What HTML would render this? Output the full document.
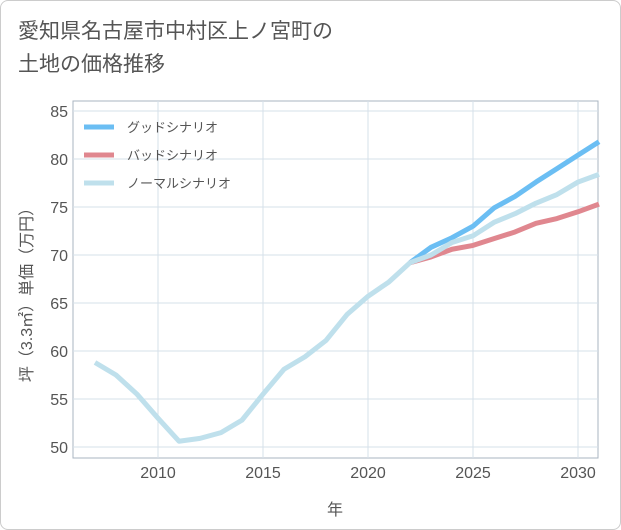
<!DOCTYPE html>
<html><head><meta charset="utf-8"><style>
body{margin:0;background:#fff;font-family:"Liberation Sans","Noto Sans CJK JP",sans-serif}
#wrap{position:relative;width:619px;height:528px;border:1px solid #ccc;border-radius:8px;overflow:hidden}
h1{position:absolute;left:17px;top:14px;margin:0;font-size:21px;font-weight:normal;color:#555;line-height:33px}
svg{position:absolute;left:0;top:0}
</style></head><body>
<div id="wrap">
<h1>愛知県名古屋市中村区上ノ宮町の<br>土地の価格推移</h1>
<svg id="c" width="621" height="530"></svg>
</div>
<script>
const years=[2007,2008,2009,2010,2011,2012,2013,2014,2015,2016,2017,2018,2019,2020,2021,2022,2023,2024,2025,2026,2027,2028,2029,2030,2031];
const normal=[58.8,57.5,55.5,53,50.6,50.9,51.5,52.8,55.5,58.1,59.4,61.1,63.8,65.7,67.2,69.2,70.0,71.3,72.0,73.4,74.3,75.4,76.3,77.6,78.4];
const fYears=[2022,2023,2024,2025,2026,2027,2028,2029,2030,2031];
const good=[69.2,70.8,71.8,73.0,74.9,76.1,77.6,79.0,80.4,81.8];
const bad=[69.2,69.8,70.6,71.0,71.7,72.4,73.3,73.8,74.5,75.3];
const xTicks=[2010,2015,2020,2025,2030];
const yTicks=[50,55,60,65,70,75,80,85];
const NS="http://www.w3.org/2000/svg",svg=document.getElementById('c');
const L=72,R=597,T=100,B=457;
const x=v=>157+(v-2010)*21;
const y=v=>110+(85-v)*9.6;
function mk(t,a){const e=document.createElementNS(NS,t);for(const k in a)e.setAttribute(k,a[k]);svg.appendChild(e);return e;}
const bg=mk('rect',{x:L,y:T,width:R-L,height:B-T,fill:'#fff',stroke:'#aab4c0'});


xTicks.forEach(v=>{
 const g=mk('line',{x1:x(v),x2:x(v),y1:T,y2:B,stroke:'#d5e0ea'});
 
 
 const t=mk('text',{x:x(v),y:B+20,'text-anchor':'middle','font-size':16,fill:'#555'});t.textContent=v;
 
 
});
yTicks.forEach(v=>{
 const g=mk('line',{x1:L,x2:R,y1:y(v),y2:y(v),stroke:'#d5e0ea'});
 
 
 const t=mk('text',{x:L-5,y:y(v)+6,'text-anchor':'end','font-size':16,fill:'#555'});t.textContent=v;
 
 
});
function line(xs,ys,c,n){const p=mk('polyline',{points:xs.map((v,i)=>x(v)+','+y(ys[i])).join(' '),fill:'none',stroke:c,'stroke-width':5,'stroke-linejoin':'round'});
 
 }
svg.insertBefore(mk('clipPath',{id:'cp'}),svg.firstChild);
line(fYears,good,'#6bbef3','good-scenario-line');
line(fYears,bad,'#e0878f','bad-scenario-line');
line(years,normal,'#bfe0ec','normal-scenario-line');
const leg=[['グッドシナリオ','#6bbef3'],['バッドシナリオ','#e0878f'],['ノーマルシナリオ','#bfe0ec']];
leg.forEach((l,i)=>{
 const yy=126+i*28;
 const s=mk('line',{x1:83,x2:113,y1:yy,y2:yy,stroke:l[1],'stroke-width':5});
 
 
 const t=mk('text',{x:126,y:yy+5,'font-size':13,fill:'#555'});t.textContent=l[0];
 
 
});
const xt=mk('text',{x:334,y:514,'text-anchor':'middle','font-size':16,fill:'#555'});xt.textContent='年';


const yt=mk('text',{x:0,y:0,'text-anchor':'middle','font-size':16,fill:'#555',transform:'translate(31,290) rotate(-90)'});yt.textContent='坪（3.3㎡）単価（万円）';


</script>
</body></html>
